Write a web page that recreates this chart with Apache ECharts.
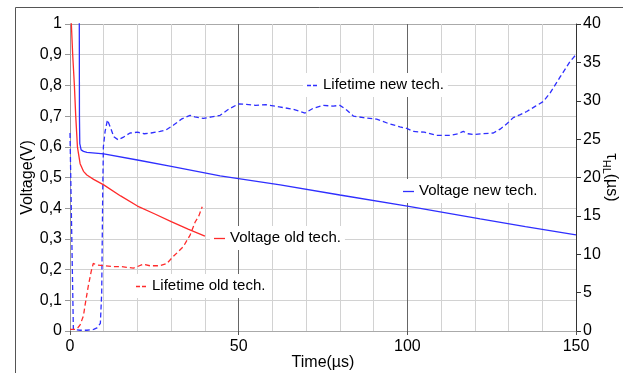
<!DOCTYPE html>
<html>
<head>
<meta charset="utf-8">
<script src="https://cdn.jsdelivr.net/npm/echarts@6/dist/echarts.min.js"></script>
<style>
  html, body { margin: 0; padding: 0; background: #fff; }
  #chart { width: 623px; height: 373px; }
</style>
</head>
<body>
<div id="chart"></div>
<script>
// Open-circuit voltage decay (left axis, V) and carrier lifetime (right axis, µs)
// for the new and the old cell technology, plotted against time in µs.

const voltNewTime = [2.75, 2.8, 2.9, 3.3, 4, 5, 10, 20, 30, 44.5, 62.3, 80, 100, 121.6, 135, 150];
const voltNewVal  = [1.05, 0.7, 0.61, 0.59, 0.585, 0.582, 0.577, 0.557, 0.536, 0.505, 0.476, 0.443, 0.407, 0.365, 0.34, 0.313];

const voltOldTime = [0.2, 0.8, 1.3, 1.7, 2.2, 3, 4, 5, 7, 10, 15, 20, 25, 30, 35, 40];
const voltOldVal  = [1.05, 0.9, 0.8, 0.7, 0.6, 0.545, 0.52, 0.508, 0.494, 0.476, 0.44, 0.407, 0.382, 0.356, 0.332, 0.309];

const lifeNewTime = [0, 1, 3, 5, 7, 8, 9, 9.4, 9.7, 9.9, 10.4, 11.1, 12, 13, 14.3, 16, 17.8, 20, 22, 24, 26.7, 28.5,
  30.6, 33, 35.6, 37, 39.5, 42, 44.5, 47, 50, 53, 55, 58, 62, 66, 69.7, 72, 75, 78, 80, 82, 84, 87, 90.9, 94,
  97.8, 99.8, 101.8, 105, 108.7, 112.7, 115, 116.6, 118, 119.6, 122, 125.5, 127.5, 129.5, 131.4, 133.5, 135.4,
  138, 140.3, 142.3, 145.3, 148.2, 150];
const lifeNewVal  = [25.8, 0.2, 0.1, 0.1, 0.2, 0.4, 1.0, 5, 18, 24, 26, 27.5, 26.5, 25.3, 24.9, 25.3, 25.8, 25.9, 25.7, 25.8, 26.0, 26.2,
  26.8, 27.6, 28.1, 27.9, 27.7, 27.9, 28.1, 28.9, 29.6, 29.5, 29.4, 29.5, 29.2, 28.9, 28.4, 29.0, 29.4, 29.3, 29.4, 28.8, 28.0, 27.8, 27.6, 27.1,
  26.6, 26.4, 26.0, 25.9, 25.5, 25.5, 25.7, 26.0, 25.7, 25.6, 25.7, 25.8, 26.3, 27.0, 27.8, 28.2, 28.6,
  29.3, 29.9, 31.0, 33.1, 35.1, 36.0];

const lifeOldTime = [0, 1.5, 2.3, 3, 4, 4.4, 5.4, 6.3, 6.9, 8, 9.9, 12.8, 15, 16.8, 18.8, 20, 21.7, 23.7, 26.7, 28.7, 30.6, 32, 33.6, 35.6, 37.1, 38.2, 39.2];
const lifeOldVal  = [0.2, 0.2, 0.4, 0.8, 2.0, 3.2, 5.8, 7.8, 8.8, 8.6, 8.5, 8.4, 8.4, 8.3, 8.2, 8.4, 8.7, 8.5, 8.5, 8.8, 9.7, 10.3, 11.0, 12.5, 14.2, 15.0, 16.2];

const xTicks = [0, 50, 100, 150];
const seriesNames = ['Voltage new tech.', 'Lifetime new tech.', 'Voltage old tech.', 'Lifetime old tech.'];

const BLUE = '#2f2fff';
const RED = '#ff2b2b';
const FONT = "'Liberation Sans', Arial, sans-serif";
const KEY_FONT_SIZE = 15;

const zip = (xs, ys) => xs.map((x, i) => [x, ys[i]]);
const fmtComma = v => (v === 0 || v === 1) ? String(v) : v.toFixed(1).replace('.', ',');

const measureCtx = document.createElement('canvas').getContext('2d');
function textWidth(text, size) {
  measureCtx.font = size + 'px ' + FONT;
  return measureCtx.measureText(text).width;
}

function lineSeries(name, data, color, dashed, axis) {
  return {
    name, type: 'line', data, yAxisIndex: axis,
    showSymbol: false, symbol: 'none', smooth: false, clip: true,
    lineStyle: { color, width: 1.3, type: dashed ? [5, 3] : 'solid' },
    itemStyle: { color },
    animation: false
  };
}

// In-plot key entry on a white box: a short line sample followed by the series name.
// (x, y) is the left end of the line sample, at the vertical centre of the text.
function keyEntry(name, color, dashed, x, y) {
  const w = 16 + textWidth(name, KEY_FONT_SIZE) + 4;
  return {
    type: 'group', x, y, silent: true,
    children: [
      { type: 'rect', z: 60, shape: { x: -4, y: -12, width: w + 4, height: 24 },
        style: { fill: '#fff', stroke: null } },
      { type: 'line', z: 61, shape: { x1: 0, y1: 0.5, x2: 11, y2: 0.5 },
        style: { stroke: color, lineWidth: 1.3, lineDash: dashed ? [4, 2] : null } },
      { type: 'text', z: 61, x: 16, y: 0,
        style: { text: name, fontFamily: FONT, fontSize: KEY_FONT_SIZE, fill: '#000',
          verticalAlign: 'middle', align: 'left' } }
    ]
  };
}

const chart = echarts.init(document.getElementById('chart'), null, { renderer: 'canvas' });
chart.setOption({
  backgroundColor: '#fff',
  animation: false,
  textStyle: { fontFamily: FONT },
  grid: { left: 70, right: 47, top: 24, bottom: 42, containLabel: false, outerBoundsMode: 'none' },
  graphic: [
    { type: 'polyline', silent: true, z: 100,
      shape: { points: [[15.5, 400], [15.5, 7.5], [640, 7.5]] },
      style: { stroke: '#555', lineWidth: 1, fill: null } },
    keyEntry(seriesNames[1], BLUE, true, 307, 85),
    keyEntry(seriesNames[0], BLUE, false, 403, 191),
    keyEntry(seriesNames[2], RED, false, 214, 238),
    keyEntry(seriesNames[3], RED, true, 136, 286)
  ],
  xAxis: {
    type: 'value', min: xTicks[0], max: xTicks[xTicks.length - 1], interval: xTicks[1] - xTicks[0],
    name: 'Time(µs)', nameLocation: 'middle', nameGap: 24, nameMoveOverlap: false,
    nameTextStyle: { fontFamily: FONT, fontSize: 16, color: '#000' },
    axisLine: { show: true, lineStyle: { color: '#aaa', width: 1 } },
    axisTick: { show: true, length: 4, lineStyle: { color: '#555' } },
    axisLabel: { fontFamily: FONT, fontSize: 16, color: '#000', margin: 8 },
    splitLine: { show: true, lineStyle: { color: '#666', width: 1 } },
    minorTick: { show: false, splitNumber: 5 },
    minorSplitLine: { show: true, lineStyle: { color: '#d2d2d2', width: 1 } }
  },
  yAxis: [
    {
      type: 'value', min: 0, max: 1, interval: 0.1, position: 'left',
      name: 'Voltage(V)', nameLocation: 'middle', nameGap: 34, nameMoveOverlap: false,
      nameTextStyle: { fontFamily: FONT, fontSize: 16, color: '#000' },
      axisLine: { show: true, lineStyle: { color: '#999' } },
      axisTick: { show: true, length: 5, lineStyle: { color: '#999' } },
      axisLabel: { fontFamily: FONT, fontSize: 16, color: '#000', margin: 8, formatter: fmtComma },
      splitLine: { show: true, lineStyle: { color: ['#d2d2d2', '#d2d2d2', '#d2d2d2', '#d2d2d2', '#d2d2d2',
        '#d2d2d2', '#d2d2d2', '#d2d2d2', '#d2d2d2', '#d2d2d2', '#aaa'], width: 1 } }
    },
    {
      type: 'value', min: 0, max: 40, interval: 5, position: 'right',
      name: '{t|τ}{s|HL}{t|(µs)}', nameLocation: 'middle', nameGap: 25, nameRotate: -90, nameMoveOverlap: false,
      nameTextStyle: {
        color: '#000',
        rich: {
          t: { fontFamily: FONT, fontSize: 16, color: '#000', lineHeight: 20, verticalAlign: 'middle' },
          s: { fontFamily: FONT, fontSize: 11, color: '#000', lineHeight: 20, verticalAlign: 'bottom', padding: [6, 0, 0, 0] }
        }
      },
      axisLine: { show: true, lineStyle: { color: '#333' } },
      axisTick: { show: true, length: 5, lineStyle: { color: '#333' } },
      axisLabel: { fontFamily: FONT, fontSize: 16, color: '#000', margin: 7 },
      splitLine: { show: false }
    }
  ],
  series: [
    lineSeries(seriesNames[0], zip(voltNewTime, voltNewVal), BLUE, false, 0),
    lineSeries(seriesNames[1], zip(lifeNewTime, lifeNewVal), BLUE, true, 1),
    lineSeries(seriesNames[2], zip(voltOldTime, voltOldVal), RED, false, 0),
    lineSeries(seriesNames[3], zip(lifeOldTime, lifeOldVal), RED, true, 1)
  ]
});
</script>
</body>
</html>
